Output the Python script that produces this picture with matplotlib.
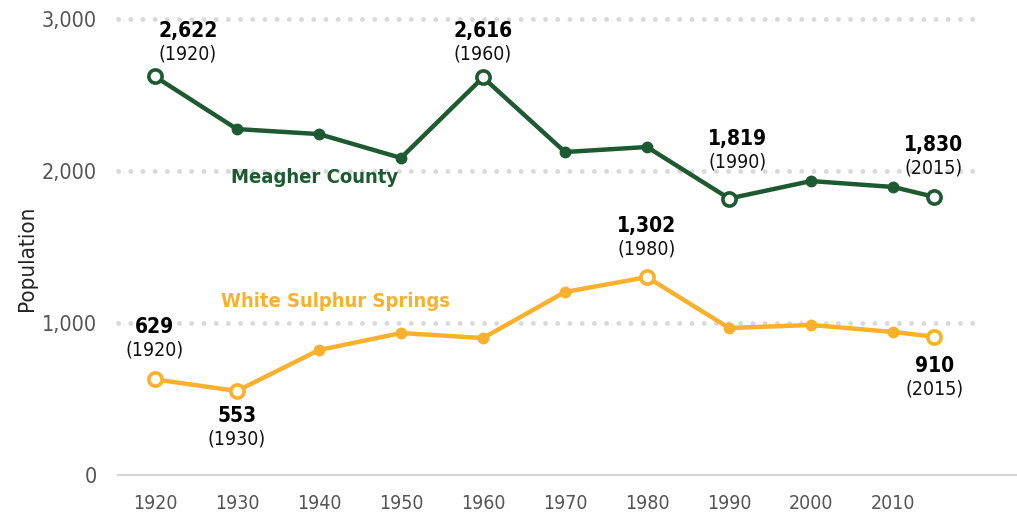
import matplotlib
matplotlib.use("Agg")
import matplotlib.pyplot as plt

plt.rcParams['font.family'] = ['DejaVu Sans']
plt.rcParams['font.stretch'] = 'condensed'

years = [1920, 1930, 1940, 1950, 1960, 1970, 1980, 1990, 2000, 2010, 2015]
meagher = [2622, 2276, 2243, 2086, 2616, 2125, 2158, 1819, 1934, 1895, 1830]
wss = [629, 553, 822, 934, 901, 1204, 1302, 967, 987, 941, 910]
tick_years = [1920, 1930, 1940, 1950, 1960, 1970, 1980, 1990, 2000, 2010]
yticks = [0, 1000, 2000, 3000]

green = "#1d5a31"
orange = "#f9b12d"

# which points get an open marker + label: index, dx, dy (pixels)
meagher_lbl = [(0, 33, 45), (4, 0, 46), (7, 8, 60), (10, -1, 52)]
wss_lbl = [(0, 0, 52), (1, 0, -25), (6, 0, 51), (10, 0, -29)]

fig = plt.figure(figsize=(10.17, 5.24), dpi=100)
ax = fig.add_axes([0.116, 0.0935, 0.884, 0.8702])
ax.set_xlim(1915.5, 2025.1)
ax.set_ylim(0, 3000)

for y in yticks[1:]:
    ax.plot([1915.5, 2020], [y, y], color="#d9d9d9", lw=3.5, ls=(0, (0.01, 2.5)),
            dash_capstyle="round", zorder=1, clip_on=False)

def draw(vals, col, lbls):
    ax.plot(years, vals, color=col, lw=3.2, zorder=3, solid_capstyle="round")
    open_idx = [i for i, _, _ in lbls]
    fx = [years[i] for i in range(len(years)) if i not in open_idx]
    fy = [vals[i] for i in range(len(years)) if i not in open_idx]
    ax.plot(fx, fy, "o", color=col, ms=7.5, zorder=4)
    ox = [years[i] for i in open_idx]
    oy = [vals[i] for i in open_idx]
    ax.plot(ox, oy, "o", mfc="white", mec=col, mew=2.6, ms=9.5, zorder=5)
    for i, dx, dy in lbls:
        ax.annotate(f"{vals[i]:,}", (years[i], vals[i]), xytext=(dx, dy),
                    textcoords="offset pixels", ha="center", va="center",
                    fontsize=15, fontweight="bold", color="black", zorder=6)
        ax.annotate(f"({years[i]})", (years[i], vals[i]), xytext=(dx, dy - 23),
                    textcoords="offset pixels", ha="center", va="center",
                    fontsize=14, color="#111111", zorder=6)

draw(meagher, green, meagher_lbl)
draw(wss, orange, wss_lbl)

ax.text(1939.5, 1955, "Meagher County", color=green, fontsize=14.5,
        fontweight="bold", ha="center", va="center")
ax.text(1942, 1140, "White Sulphur Springs", color=orange, fontsize=14.5,
        fontweight="bold", ha="center", va="center")

ax.set_xticks(tick_years)
ax.set_xticklabels([str(t) for t in tick_years])
ax.set_yticks(yticks)
ax.set_yticklabels([f"{t:,}" for t in yticks])
ax.tick_params(length=0, colors="#555555")
ax.tick_params(axis="x", pad=14, labelsize=14)
ax.tick_params(axis="y", pad=15, labelsize=15.5)
ax.set_ylabel("Population", fontsize=16, color="#222222")
ax.yaxis.set_label_coords(-0.09, 0.476)

for s in ["top", "right", "left"]:
    ax.spines[s].set_visible(False)
ax.spines["bottom"].set_color("#d5d5d5")
ax.spines["bottom"].set_linewidth(1.5)

fig.savefig("out.png", dpi=100)
